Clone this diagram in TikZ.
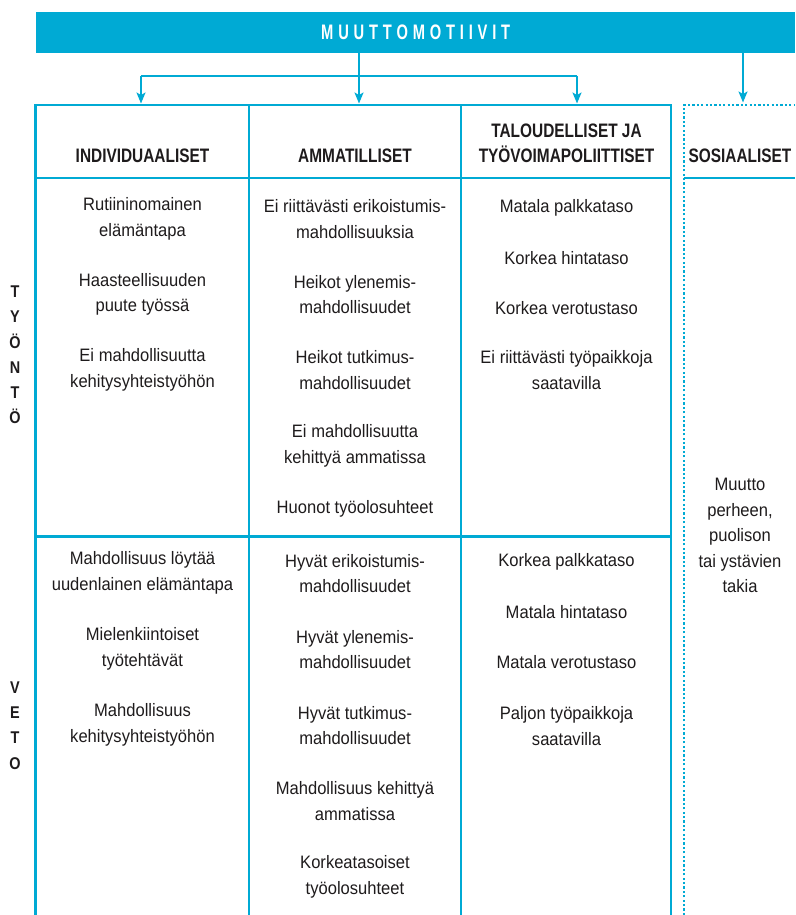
\documentclass[tikz,border=0pt]{standalone}
\usepackage{fontspec}
\setmainfont{Liberation Sans}[FakeStretch=0.92]
\newfontfamily\hdfont{Liberation Sans}[FakeStretch=0.79]
\newfontfamily\ttlfont{Liberation Sans}[FakeStretch=0.7]
\newfontfamily\sidefont{Liberation Sans}[FakeStretch=0.85]
\usetikzlibrary{arrows.meta}
\definecolor{mblue}{RGB}{0,170,212}
\definecolor{ink}{RGB}{30,27,28}
\newcommand{\lsp}{\hspace{4.8pt}}
\tikzset{
  gridline/.style={draw=mblue, line width=2.8pt},
  dotline/.style={draw=mblue, line width=2.8pt, dash pattern=on 2.2pt off 2.2pt},
  conn/.style={draw=mblue, line width=1.6pt, -{Stealth[length=11pt,width=9pt,inset=2.5pt]}},
  plain/.style={draw=mblue, line width=1.6pt},
  item/.style={align=center, inner sep=0pt, text=ink, font=\fontsize{18}{25.4}\selectfont},
  head/.style={align=center, inner sep=0pt, text=ink, font=\hdfont\bfseries\fontsize{19.5}{25}\selectfont},
  side/.style={align=center, inner sep=0pt, text=ink, font=\sidefont\bfseries\fontsize{17}{25.2}\selectfont},
}
\begin{document}
\begin{tikzpicture}[x=1pt,y=-1pt]
\useasboundingbox (0,0) rectangle (795,915);
% title bar
\node[fill=mblue, minimum width=759pt, minimum height=41pt, inner sep=0pt, anchor=north west,
      text=white, font=\ttlfont\bfseries\fontsize{21}{25}\selectfont] (bar) at (36,12)
  {M\lsp U\lsp U\lsp T\lsp T\lsp O\lsp M\lsp O\lsp T\lsp I\lsp I\lsp V\lsp I\lsp T};
% grid
\draw[gridline] (35.5,915) -- (35.5,105) -- (671,105) -- (671,915);
\draw[gridline] (249,105) -- (249,915);
\draw[gridline] (461,105) -- (461,915);
\draw[gridline] (35.5,178) -- (671,178);
\draw[gridline] (35.5,536.5) -- (671,536.5);
\draw[dotline] (684,915) -- (684,105) -- (795,105);
\draw[gridline] (684,178) -- (795,178);
% connector points
\coordinate (b1) at (359,53);
\coordinate (b2) at (743,53);
\coordinate (j) at (359,76);
\coordinate (jl) at (141,76);
\coordinate (jr) at (577,76);
\coordinate (t1) at (141,103.5);
\coordinate (t2) at (359,103.5);
\coordinate (t3) at (577,103.5);
\coordinate (t4) at (743,102.5);
\draw[conn] (b1) -- (t2);
\draw[plain] (jl) -- (jr);
\draw[conn] (jl) -- (t1);
\draw[conn] (jr) -- (t3);
\draw[conn] (b2) -- (t4);
% headers
\node[head, anchor=base] (h1) at (142.5,162) {INDIVIDUAALISET};
\node[head, anchor=base] (h2) at (355,162) {AMMATILLISET};
\node[head, anchor=base] (h3a) at (566.5,137) {TALOUDELLISET JA};
\node[head, anchor=base] (h3b) at (566.5,162) {TYÖVOIMAPOLIITTISET};
\node[head, anchor=base] (h4) at (740,162) {SOSIAALISET};
% side labels
\node[side] (tyonto) at (15,355) {T\\Y\\Ö\\N\\T\\Ö};
\node[side] (veto) at (15,725.5) {V\\E\\T\\O};
% push: column 1
\node[item] (p11) at (142.5,219) {Rutiininomainen\\elämäntapa};
\node[item] (p12) at (142.5,294.5) {Haasteellisuuden\\puute työssä};
\node[item] (p13) at (142.5,370) {Ei mahdollisuutta\\kehitysyhteistyöhön};
% push: column 2
\node[item] (p21) at (355,219) {Ei riittävästi erikoistumis-\\mahdollisuuksia};
\node[item] (p22) at (355,294.5) {Heikot ylenemis-\\mahdollisuudet};
\node[item] (p23) at (355,370) {Heikot tutkimus-\\mahdollisuudet};
\node[item] (p24) at (355,446) {Ei mahdollisuutta\\kehittyä ammatissa};
\node[item] (p25) at (355,509) {Huonot työolosuhteet};
% push: column 3
\node[item] (p31) at (566.5,208) {Matala palkkataso};
\node[item] (p32) at (566.5,258) {Korkea hintataso};
\node[item] (p33) at (566.5,308) {Korkea verotustaso};
\node[item] (p34) at (566.5,370) {Ei riittävästi työpaikkoja\\saatavilla};
% social
\node[item] (s1) at (740,535.5) {Muutto\\perheen,\\puolison\\tai ystävien\\takia};
% pull: column 1
\node[item] (v11) at (142.5,573) {Mahdollisuus löytää\\uudenlainen elämäntapa};
\node[item] (v12) at (142.5,649) {Mielenkiintoiset\\työtehtävät};
\node[item] (v13) at (142.5,725) {Mahdollisuus\\kehitysyhteistyöhön};
% pull: column 2
\node[item] (v21) at (355,573.5) {Hyvät erikoistumis-\\mahdollisuudet};
\node[item] (v22) at (355,649.5) {Hyvät ylenemis-\\mahdollisuudet};
\node[item] (v23) at (355,725.5) {Hyvät tutkimus-\\mahdollisuudet};
\node[item] (v24) at (355,801) {Mahdollisuus kehittyä\\ammatissa};
\node[item] (v25) at (355,877) {Korkeatasoiset\\työolosuhteet};
% pull: column 3
\node[item] (v31) at (566.5,562) {Korkea palkkataso};
\node[item] (v32) at (566.5,612) {Matala hintataso};
\node[item] (v33) at (566.5,662) {Matala verotustaso};
\node[item] (v34) at (566.5,726) {Paljon työpaikkoja\\saatavilla};
\end{tikzpicture}
\end{document}
